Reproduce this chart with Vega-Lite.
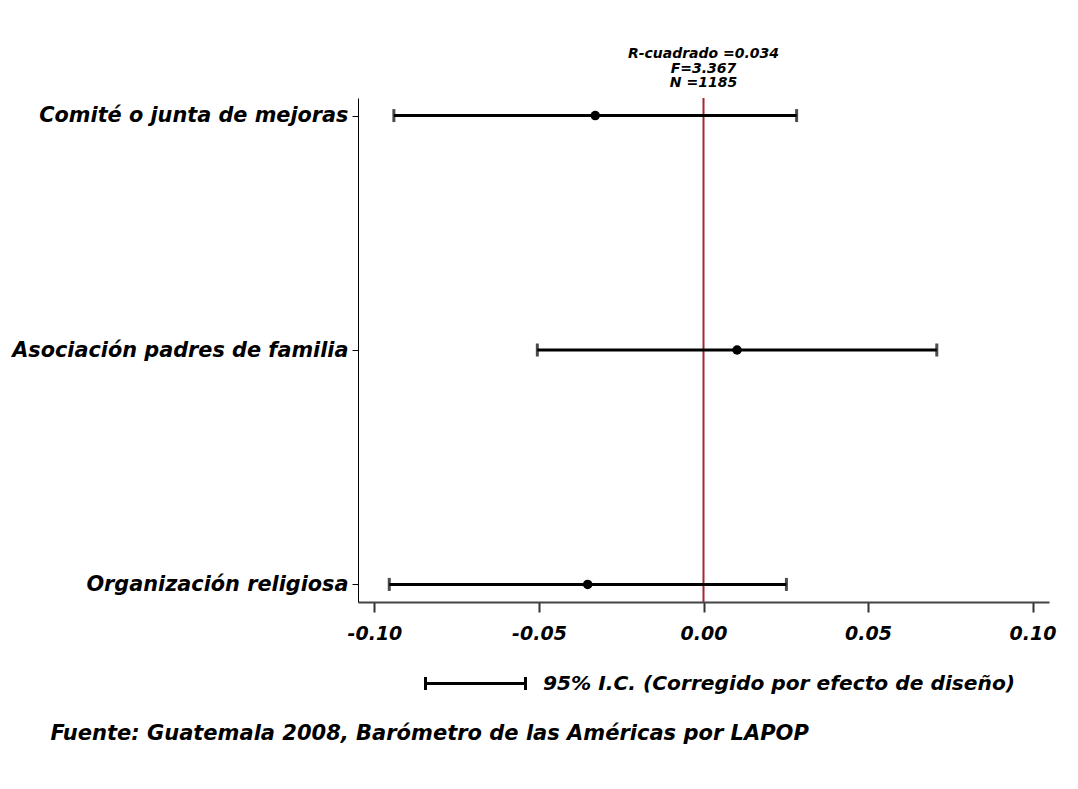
{
  "$schema": "https://vega.github.io/schema/vega-lite/v6.json",
  "autosize": {"type": "none"},
  "padding": {"left": 358, "top": 98, "right": 29, "bottom": 187},
  "width": 691,
  "height": 504,
  "background": "white",
  "title": {
    "text": ["R-cuadrado =0.034", "F=3.367", "N =1185"],
    "anchor": "middle",
    "font": "DejaVu Sans",
    "fontSize": 14,
    "fontWeight": "bold",
    "fontStyle": "italic",
    "color": "black",
    "lineHeight": 14.5,
    "offset": 7
  },
  "config": {
    "view": {"stroke": null},
    "legend": {"padding": 0}
  },
  "data": {
    "values": [
      {"var": "Comité o junta de mejoras", "b": -0.0329, "lo": -0.0941, "hi": 0.0283},
      {"var": "Asociación padres de familia", "b": 0.0102, "lo": -0.0505, "hi": 0.0709},
      {"var": "Organización religiosa", "b": -0.0352, "lo": -0.0955, "hi": 0.0252}
    ]
  },
  "encoding": {
    "y": {
      "field": "var",
      "type": "nominal",
      "sort": null,
      "scale": {"type": "point", "padding": 0.075},
      "axis": {
        "title": null,
        "labelFont": "DejaVu Sans",
        "labelFontSize": 20.8,
        "labelFontWeight": "bold",
        "labelFontStyle": "italic",
        "labelColor": "black",
        "labelLimit": 400,
        "labelPadding": 4,
        "tickSize": 6,
        "tickColor": "black",
        "tickWidth": 1,
        "domainColor": "black",
        "domainWidth": 1
      }
    }
  },
  "layer": [
    {
      "data": {"values": [{"ref": 0}]},
      "mark": {"type": "rule", "color": "#A3282C", "strokeWidth": 2},
      "encoding": {
        "x": {"field": "ref", "type": "quantitative", "scale": {"domain": [-0.105, 0.105], "nice": false, "zero": false}},
        "y": null
      }
    },
    {
      "mark": {"type": "rule", "strokeWidth": 3},
      "encoding": {
        "x": {
          "field": "lo",
          "type": "quantitative",
          "scale": {"domain": [-0.105, 0.105], "nice": false, "zero": false},
          "axis": {
            "values": [-0.1, -0.05, 0, 0.05, 0.1],
            "labelExpr": "replace(format(datum.value, '.2f'), '\u2212', '-')",
            "grid": false,
            "labelFont": "DejaVu Sans",
            "labelFontSize": 19,
            "labelFontWeight": "bold",
            "labelFontStyle": "italic",
            "labelColor": "black",
            "labelPadding": 12,
            "tickSize": 10,
            "tickWidth": 2,
            "tickColor": "#333333",
            "domainColor": "#444444",
            "domainWidth": 2,
            "title": "Fuente: Guatemala 2008, Barómetro de las Américas por LAPOP",
            "titleFont": "DejaVu Sans",
            "titleFontSize": 21,
            "titleFontWeight": "bold",
            "titleFontStyle": "italic",
            "titleColor": "black",
            "titleAnchor": "start",
            "titleAlign": "left",
            "titleBaseline": "middle",
            "titleX": -308,
            "titleY": 131
          }
        },
        "x2": {"field": "hi"},
        "stroke": {
          "datum": "95% I.C. (Corregido por efecto de diseño)",
          "type": "nominal",
          "scale": {"range": ["black"]},
          "legend": {
            "title": null,
            "orient": "none",
            "legendX": 66,
            "legendY": 534,
            "symbolType": "M-1,-0.13V0.13M-1,0H1M1,-0.13V0.13",
            "symbolSize": 10000,
            "symbolStrokeWidth": 3,
            "symbolStrokeColor": "black",
            "symbolFillColor": "transparent",
            "labelFont": "DejaVu Sans",
            "labelFontSize": 20.2,
            "labelFontWeight": "bold",
            "labelFontStyle": "italic",
            "labelColor": "black",
            "labelOffset": 16,
            "labelLimit": 800
          }
        }
      }
    },
    {
      "mark": {"type": "tick", "color": "black", "size": 13, "thickness": 3},
      "encoding": {"x": {"field": "lo", "type": "quantitative"}}
    },
    {
      "mark": {"type": "tick", "color": "black", "size": 13, "thickness": 3},
      "encoding": {"x": {"field": "hi", "type": "quantitative"}}
    },
    {
      "mark": {"type": "point", "filled": true, "color": "black", "size": 90, "opacity": 1},
      "encoding": {"x": {"field": "b", "type": "quantitative"}}
    }
  ],
  "resolve": {"scale": {"x": "shared"}}
}
